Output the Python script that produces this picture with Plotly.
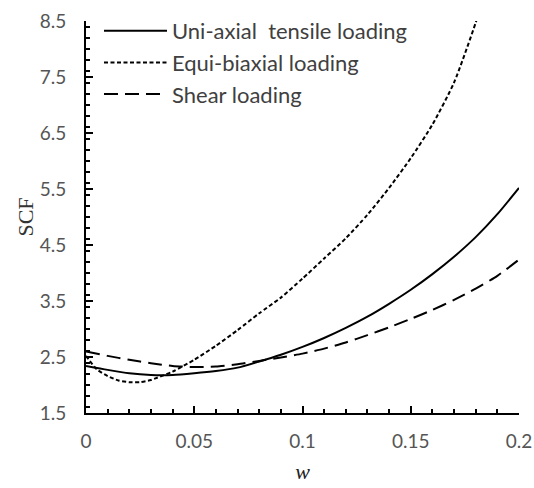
import plotly.graph_objects as go

w_uni = [0, 0.01, 0.02, 0.03, 0.04, 0.05, 0.06, 0.07, 0.08, 0.09, 0.10,
         0.11, 0.12, 0.13, 0.14, 0.15, 0.16, 0.17, 0.18, 0.19, 0.20]
scf_uni = [2.34, 2.27, 2.21, 2.18, 2.18, 2.21, 2.25, 2.31, 2.42, 2.54, 2.68,
           2.84, 3.02, 3.22, 3.45, 3.70, 3.98, 4.29, 4.64, 5.05, 5.52]

w_equi = [0, 0.005, 0.01, 0.015, 0.02, 0.025, 0.03, 0.04, 0.05, 0.06, 0.07,
          0.08, 0.09, 0.10, 0.11, 0.12, 0.13, 0.14, 0.15, 0.16, 0.17, 0.18, 0.185]
scf_equi = [2.52, 2.28, 2.16, 2.08, 2.05, 2.05, 2.09, 2.24, 2.45, 2.70, 2.98,
            3.28, 3.56, 3.90, 4.26, 4.62, 5.04, 5.52, 6.05, 6.65, 7.40, 8.47, 9.10]

w_shear = [0, 0.01, 0.02, 0.03, 0.04, 0.05, 0.06, 0.07, 0.08, 0.09, 0.10,
           0.11, 0.12, 0.13, 0.14, 0.15, 0.16, 0.17, 0.18, 0.19, 0.20]
scf_shear = [2.60, 2.52, 2.45, 2.39, 2.34, 2.32, 2.33, 2.37, 2.43, 2.49, 2.56,
             2.65, 2.76, 2.89, 3.03, 3.18, 3.34, 3.52, 3.72, 3.95, 4.24]

names = ["Uni-axial  tensile loading", "Equi-biaxial loading", "Shear loading"]

fig = go.Figure()
fig.add_trace(go.Scatter(x=w_uni, y=scf_uni, mode="lines", name=names[0],
                         legendgroup="a",
                         line=dict(color="black", width=2, shape="spline", smoothing=0.6)))
fig.add_trace(go.Scatter(x=w_equi, y=scf_equi, mode="lines", name=names[1],
                         legendgroup="b",
                         line=dict(color="black", width=2, dash="4px,2.5px", shape="spline", smoothing=0.6)))
fig.add_trace(go.Scatter(x=w_shear, y=scf_shear, mode="lines", name=names[2],
                         legendgroup="c",
                         line=dict(color="black", width=2, dash="14px,7px", shape="spline", smoothing=0.6)))

tickfont = dict(family="Lato, Open Sans, sans-serif", size=19, color="#555555")

fig.update_layout(
    width=534, height=488,
    margin=dict(l=86, r=15, t=21, b=75, autoexpand=False),
    plot_bgcolor="white", paper_bgcolor="white",
    showlegend=True,
    legend=dict(x=0.03, y=1.028, xanchor="left", yanchor="top",
                font=dict(family="Lato, Open Sans, sans-serif", size=22, color="#404040"),
                bgcolor="rgba(0,0,0,0)", itemwidth=63, tracegroupgap=18,
                traceorder="normal"),
    xaxis=dict(range=[0, 0.2], tick0=0, dtick=0.05, tickformat="~g",
               showgrid=False, zeroline=False, automargin=False,
               showline=True, linecolor="black", linewidth=2,
               ticks="inside", ticklen=7, tickwidth=2, tickcolor="black",
               minor=dict(dtick=0.01, ticks="inside", ticklen=4, tickwidth=1.5, tickcolor="black"),
               tickfont=tickfont, ticklabelstandoff=10,
               title=dict(text="<i>w</i>", font=dict(family="Liberation Serif, Times New Roman, serif",
                                                      size=22, color="#222222"), standoff=13),
               ),
    yaxis=dict(range=[1.5, 8.5], tick0=1.5, dtick=1, tickformat=".1f",
               showgrid=False, zeroline=False, automargin=False,
               showline=True, linecolor="black", linewidth=2,
               ticks="inside", ticklen=7, tickwidth=2, tickcolor="black",
               minor=dict(dtick=0.2, ticks="inside", ticklen=4, tickwidth=1.5, tickcolor="black"),
               tickfont=tickfont, ticklabelstandoff=14,
               title=dict(text="SCF", font=dict(family="Liberation Serif, Times New Roman, serif",
                                                 size=22, color="#333333"), standoff=0),
               ),
)

fig.write_html("out.html", config={"displayModeBar": False},
               post_script="document.body.style.margin='0';document.body.style.overflow='hidden';")
